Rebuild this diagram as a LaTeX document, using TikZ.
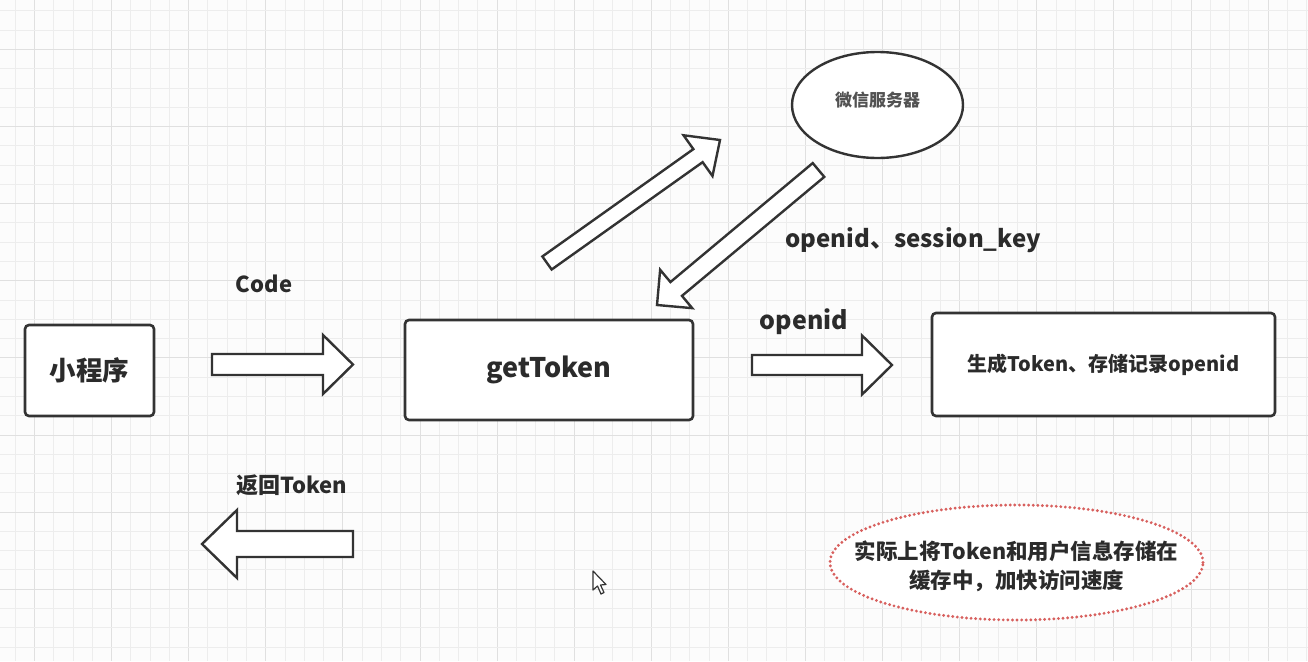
\documentclass[tikz,border=0pt]{standalone}
\usepackage{fontspec}
\setmainfont{Noto Sans CJK SC}
\usetikzlibrary{calc,shapes.geometric}
\definecolor{ink}{HTML}{333333}
\definecolor{txt}{HTML}{2B2B2B}
\definecolor{gridminor}{HTML}{EDEDED}
\definecolor{gridmajor}{HTML}{E0E0E0}
\definecolor{dotred}{HTML}{D8605E}
\newcommand{\fatarr}[5]{%
  \coordinate (fac) at ($(#2)!#5pt!(#1)$);
  \draw[blockarrow] ($(#1)!#3pt!90:(#2)$) -- ($(fac)!#3pt!90:(#2)$) -- ($(fac)!#4pt!90:(#2)$) -- (#2)
    -- ($(fac)!#4pt!-90:(#2)$) -- ($(fac)!#3pt!-90:(#2)$) -- ($(#1)!#3pt!-90:(#2)$) -- cycle;}
\newcommand{\fs}[1]{\fontsize{#1}{#1}\selectfont}
\begin{document}
\begin{tikzpicture}[x=1pt,y=-1pt,
  box/.style={draw=ink, line width=2.6pt, rounded corners=4pt, fill=white, text=txt, font=\bfseries},
  blockarrow/.style={draw=ink, line width=2.4pt, fill=white, line join=miter},
  lbl/.style={text=txt, font=\bfseries, inner sep=0pt},
  minorline/.style={gridminor, line width=1pt},
  majorline/.style={gridmajor, line width=1pt}]
\useasboundingbox (0,0) rectangle (1308,661);
\fill[white!99!black] (0,0) rectangle (1308,661);
% grid
\foreach \k in {-1,...,66}{
  \pgfmathsetmacro{\xx}{34.5+19.275*\k}
  \pgfmathtruncatemacro{\mm}{mod(\k+100,4)}
  \ifnum\mm=0 \draw[majorline] (\xx,0) -- (\xx,661); \else \draw[minorline] (\xx,0) -- (\xx,661); \fi
}
\foreach \k in {-2,...,31}{
  \pgfmathsetmacro{\yy}{49.5+19.275*\k}
  \pgfmathtruncatemacro{\mm}{mod(\k+100,4)}
  \ifnum\mm=0 \draw[majorline] (0,\yy) -- (1308,\yy); \else \draw[minorline] (0,\yy) -- (1308,\yy); \fi
}
% boxes
\node[box, minimum width=129pt, minimum height=91pt] (mini) at (89.5,370.5) {\fs{26.5}小程序};
\node[box, minimum width=288pt, minimum height=100pt] (get) at (549,370) {\fs{27}getToken};
\node[box, minimum width=343pt, minimum height=103pt] (gen) at (1103.5,364.5) {\fs{20}生成Token、存储记录openid};
\node[draw=ink, line width=2.4pt, ellipse, fill=white, minimum width=171pt, minimum height=106pt, inner sep=0pt] (wx) at (877.5,105) {};
\node[text=black!68, font=\bfseries, inner sep=0pt] (wxtext) at (877.5,100) {\fs{17}微信服务器};
\node[draw=dotred, line width=3.2pt, dash pattern=on 0pt off 4.6pt, line cap=round, ellipse, fill=white, minimum width=373pt, minimum height=115pt, inner sep=0pt] (note) at (1016.5,562.5) {};
\node[text=txt, font=\bfseries, align=center, inner sep=0pt] (notetext) at (1016.5,566.5) {\fs{21.5}实际上将Token和用户信息存储在\\[7pt]\fs{21.5}缓存中，加快访问速度};
% labels
\node[lbl] (code) at (264,284) {\fs{22}Code};
\node[lbl] (oskey) at (913,240) {\fs{24}openid、session\_key};
\node[lbl] (oid) at (804,322) {\fs{25}openid};
\node[lbl] (ret) at (292,485) {\fs{22}返回Token};
% block arrows
\coordinate (a1t) at (212,364.5); \coordinate (a1h) at (353,364.5);
\fatarr{a1t}{a1h}{10.5}{29.5}{30}
\coordinate (a2t) at (752,365); \coordinate (a2h) at (892,365);
\fatarr{a2t}{a2h}{10}{29.5}{30}
\coordinate (a3t) at (353,544); \coordinate (a3h) at (202,544);
\fatarr{a3t}{a3h}{13}{34}{35}
\coordinate (a4t) at (547,263); \coordinate (a4h) at (720,140);
\fatarr{a4t}{a4h}{8}{25}{27}
\coordinate (a5t) at (818.5,170); \coordinate (a5h) at (657,305);
\fatarr{a5t}{a5h}{9}{25}{25}
% mouse cursor
\draw[ink, line width=1.2pt, fill=white, line join=round] (593,571) -- (593,590) -- (597.5,586) -- (601,594) -- (604,592.5) -- (600.5,585) -- (606,584.5) -- cycle;
\end{tikzpicture}
\end{document}
